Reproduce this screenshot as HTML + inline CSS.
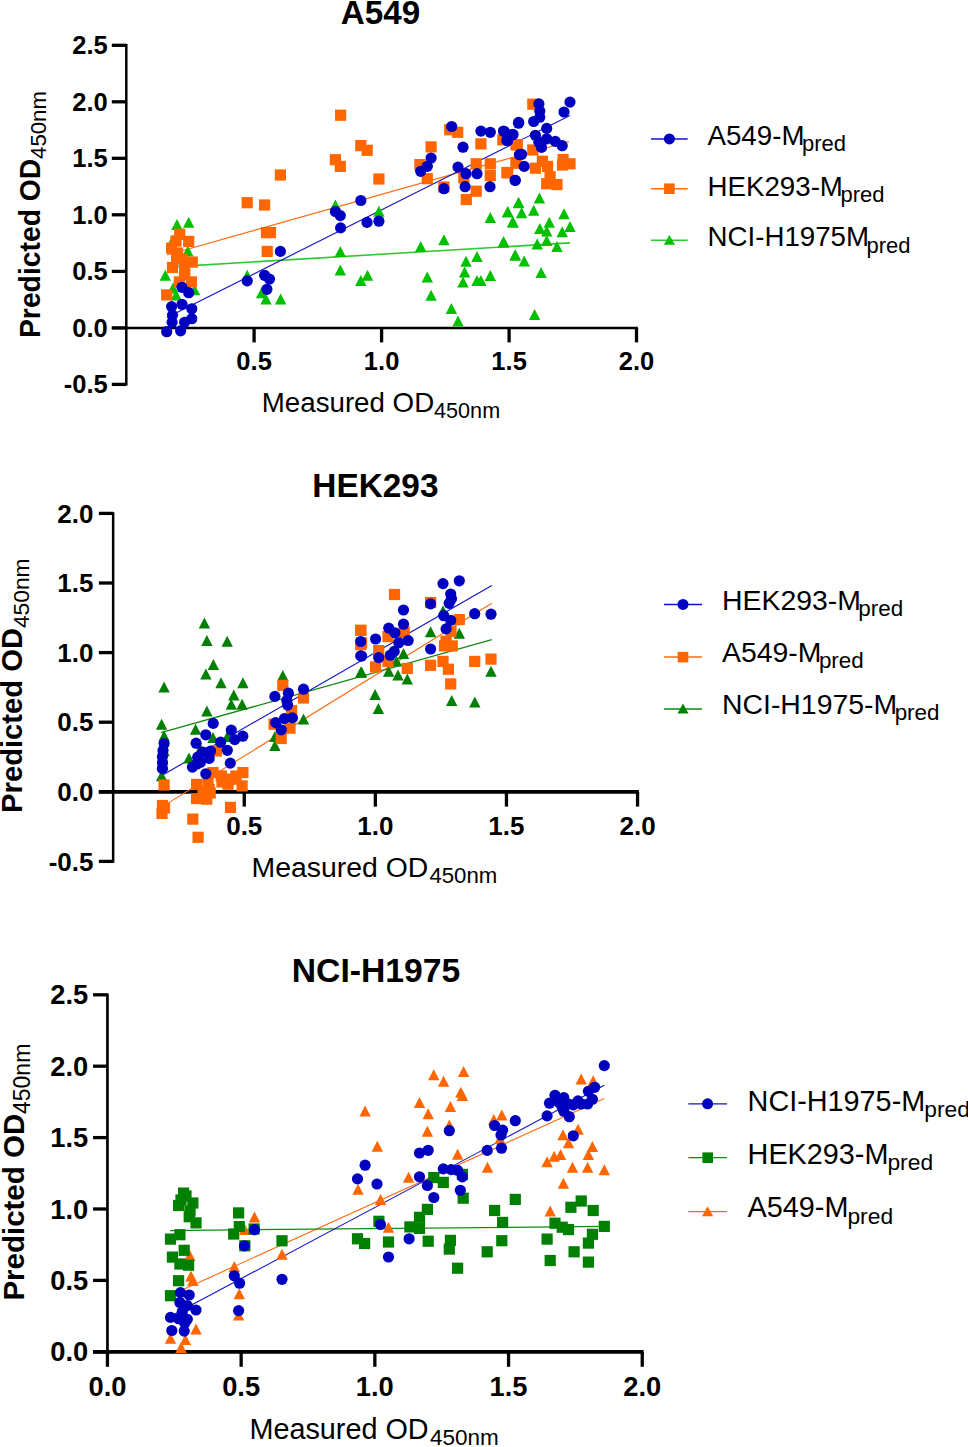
<!DOCTYPE html><html><head><meta charset="utf-8"><style>
html,body{margin:0;padding:0;background:#fff;overflow:hidden;width:968px;height:1447px;}
svg{display:block;}
text{font-family:"Liberation Sans",sans-serif;fill:#000;}
</style></head><body>
<svg width="968" height="1447" viewBox="0 0 968 1447">
<rect width="968" height="1447" fill="#fff"/>
<line x1="126.3" y1="44.05" x2="126.3" y2="385.6" stroke="#000" stroke-width="2.5"/>
<line x1="111.8" y1="327.9" x2="637.8" y2="327.9" stroke="#000" stroke-width="2.5"/>
<line x1="111.8" y1="45.3" x2="126.3" y2="45.3" stroke="#000" stroke-width="3.3"/>
<line x1="111.8" y1="101.8" x2="126.3" y2="101.8" stroke="#000" stroke-width="3.3"/>
<line x1="111.8" y1="158.3" x2="126.3" y2="158.3" stroke="#000" stroke-width="3.3"/>
<line x1="111.8" y1="214.8" x2="126.3" y2="214.8" stroke="#000" stroke-width="3.3"/>
<line x1="111.8" y1="271.4" x2="126.3" y2="271.4" stroke="#000" stroke-width="3.3"/>
<line x1="111.8" y1="327.9" x2="126.3" y2="327.9" stroke="#000" stroke-width="3.3"/>
<line x1="111.8" y1="384.4" x2="126.3" y2="384.4" stroke="#000" stroke-width="3.3"/>
<line x1="254.1" y1="327.9" x2="254.1" y2="342.4" stroke="#000" stroke-width="3.3"/>
<line x1="381.6" y1="327.9" x2="381.6" y2="342.4" stroke="#000" stroke-width="3.3"/>
<line x1="509.1" y1="327.9" x2="509.1" y2="342.4" stroke="#000" stroke-width="3.3"/>
<line x1="636.5" y1="327.9" x2="636.5" y2="342.4" stroke="#000" stroke-width="3.3"/>
<text x="107.8" y="54.22" style="font-size:25.5px;font-weight:bold" text-anchor="end">2.5</text>
<text x="107.8" y="110.72" style="font-size:25.5px;font-weight:bold" text-anchor="end">2.0</text>
<text x="107.8" y="167.23" style="font-size:25.5px;font-weight:bold" text-anchor="end">1.5</text>
<text x="107.8" y="223.73" style="font-size:25.5px;font-weight:bold" text-anchor="end">1.0</text>
<text x="107.8" y="280.32" style="font-size:25.5px;font-weight:bold" text-anchor="end">0.5</text>
<text x="107.8" y="336.82" style="font-size:25.5px;font-weight:bold" text-anchor="end">0.0</text>
<text x="107.8" y="393.32" style="font-size:25.5px;font-weight:bold" text-anchor="end">-0.5</text>
<text x="254.1" y="369.9" style="font-size:25.5px;font-weight:bold" text-anchor="middle">0.5</text>
<text x="381.6" y="369.9" style="font-size:25.5px;font-weight:bold" text-anchor="middle">1.0</text>
<text x="509.1" y="369.9" style="font-size:25.5px;font-weight:bold" text-anchor="middle">1.5</text>
<text x="636.5" y="369.9" style="font-size:25.5px;font-weight:bold" text-anchor="middle">2.0</text>
<text x="380.5" y="23.8" style="font-size:33.2px;font-weight:bold" text-anchor="middle">A549</text>
<text x="261.8" y="411.5" style="font-size:27.7px">Measured OD</text>
<text x="434.1" y="418.2" style="font-size:21.6px">450nm</text>
<text transform="translate(40.0,338) rotate(-90) scale(1,1.03)" style="font-size:28.3px;font-weight:bold">Predicted OD</text>
<text transform="translate(45.9,158.9) rotate(-90)" style="font-size:22.2px">450nm</text>
<line x1="167" y1="255.0" x2="569" y2="141.5" stroke="#ff6a10" stroke-width="1.1"/>
<line x1="167" y1="267.1" x2="570" y2="242.9" stroke="#30c830" stroke-width="1.6"/>
<line x1="167" y1="317.5" x2="570" y2="115.4" stroke="#1010c8" stroke-width="1.1"/>
<path d="M177.0 219.0L182.7 230.0L171.3 230.0Z" fill="#00c000"/>
<path d="M188.7 216.8L194.4 227.8L183.0 227.8Z" fill="#00c000"/>
<path d="M172.5 235.2L178.2 246.2L166.8 246.2Z" fill="#00c000"/>
<path d="M187.8 245.5L193.5 256.5L182.1 256.5Z" fill="#00c000"/>
<path d="M165.3 269.8L171.0 280.8L159.6 280.8Z" fill="#00c000"/>
<path d="M173.0 282.4L178.7 293.4L167.3 293.4Z" fill="#00c000"/>
<path d="M194.5 284.2L200.2 295.2L188.8 295.2Z" fill="#00c000"/>
<path d="M176.1 289.6L181.8 300.6L170.4 300.6Z" fill="#00c000"/>
<path d="M247.2 269.8L252.9 280.8L241.5 280.8Z" fill="#00c000"/>
<path d="M261.6 287.2L267.3 298.2L255.9 298.2Z" fill="#00c000"/>
<path d="M266.0 293.5L271.7 304.5L260.3 304.5Z" fill="#00c000"/>
<path d="M280.6 293.5L286.3 304.5L274.9 304.5Z" fill="#00c000"/>
<path d="M335.4 199.6L341.1 210.6L329.7 210.6Z" fill="#00c000"/>
<path d="M378.9 205.7L384.6 216.7L373.2 216.7Z" fill="#00c000"/>
<path d="M340.3 246.1L346.0 257.1L334.6 257.1Z" fill="#00c000"/>
<path d="M340.3 264.6L346.0 275.6L334.6 275.6Z" fill="#00c000"/>
<path d="M360.8 275.1L366.5 286.1L355.1 286.1Z" fill="#00c000"/>
<path d="M367.5 269.8L373.2 280.8L361.8 280.8Z" fill="#00c000"/>
<path d="M490.3 211.9L496.0 222.9L484.6 222.9Z" fill="#00c000"/>
<path d="M507.7 206.1L513.4 217.1L502.0 217.1Z" fill="#00c000"/>
<path d="M512.7 216.0L518.4 227.0L507.0 227.0Z" fill="#00c000"/>
<path d="M518.5 197.0L524.2 208.0L512.8 208.0Z" fill="#00c000"/>
<path d="M443.9 234.3L449.6 245.3L438.2 245.3Z" fill="#00c000"/>
<path d="M420.7 240.9L426.4 251.9L415.0 251.9Z" fill="#00c000"/>
<path d="M503.6 235.9L509.3 246.9L497.9 246.9Z" fill="#00c000"/>
<path d="M515.2 249.2L520.9 260.2L509.5 260.2Z" fill="#00c000"/>
<path d="M477.0 250.9L482.7 261.9L471.3 261.9Z" fill="#00c000"/>
<path d="M466.0 255.8L471.7 266.8L460.3 266.8Z" fill="#00c000"/>
<path d="M427.3 271.6L433.0 282.6L421.6 282.6Z" fill="#00c000"/>
<path d="M464.6 266.6L470.3 277.6L458.9 277.6Z" fill="#00c000"/>
<path d="M463.0 276.6L468.7 287.6L457.3 287.6Z" fill="#00c000"/>
<path d="M477.0 274.9L482.7 285.9L471.3 285.9Z" fill="#00c000"/>
<path d="M480.9 274.9L486.6 285.9L475.2 285.9Z" fill="#00c000"/>
<path d="M490.3 269.9L496.0 280.9L484.6 280.9Z" fill="#00c000"/>
<path d="M431.1 289.8L436.8 300.8L425.4 300.8Z" fill="#00c000"/>
<path d="M451.4 303.1L457.1 314.1L445.7 314.1Z" fill="#00c000"/>
<path d="M458.0 315.5L463.7 326.5L452.3 326.5Z" fill="#00c000"/>
<path d="M539.4 192.6L545.1 203.6L533.7 203.6Z" fill="#00c000"/>
<path d="M518.7 197.3L524.4 208.3L513.0 208.3Z" fill="#00c000"/>
<path d="M533.7 204.7L539.4 215.7L528.0 215.7Z" fill="#00c000"/>
<path d="M507.8 206.4L513.5 217.4L502.1 217.4Z" fill="#00c000"/>
<path d="M521.6 207.3L527.3 218.3L515.9 218.3Z" fill="#00c000"/>
<path d="M513.0 216.8L518.7 227.8L507.3 227.8Z" fill="#00c000"/>
<path d="M564.0 208.2L569.7 219.2L558.3 219.2Z" fill="#00c000"/>
<path d="M549.3 216.8L555.0 227.8L543.6 227.8Z" fill="#00c000"/>
<path d="M539.8 222.9L545.5 233.9L534.1 233.9Z" fill="#00c000"/>
<path d="M546.7 225.5L552.4 236.5L541.0 236.5Z" fill="#00c000"/>
<path d="M570.0 221.1L575.7 232.1L564.3 232.1Z" fill="#00c000"/>
<path d="M562.2 226.3L567.9 237.3L556.5 237.3Z" fill="#00c000"/>
<path d="M503.5 236.7L509.2 247.7L497.8 247.7Z" fill="#00c000"/>
<path d="M537.2 238.4L542.9 249.4L531.5 249.4Z" fill="#00c000"/>
<path d="M546.7 235.0L552.4 246.0L541.0 246.0Z" fill="#00c000"/>
<path d="M557.0 241.0L562.7 252.0L551.3 252.0Z" fill="#00c000"/>
<path d="M515.2 249.7L520.9 260.7L509.5 260.7Z" fill="#00c000"/>
<path d="M524.2 255.4L529.9 266.4L518.5 266.4Z" fill="#00c000"/>
<path d="M541.1 266.9L546.8 277.9L535.4 277.9Z" fill="#00c000"/>
<path d="M534.6 308.9L540.3 319.9L528.9 319.9Z" fill="#00c000"/>
<rect x="174.1" y="228.7" width="11.2" height="11.2" fill="#ff6600"/>
<rect x="183.1" y="235.8" width="11.2" height="11.2" fill="#ff6600"/>
<rect x="166.0" y="242.6" width="11.2" height="11.2" fill="#ff6600"/>
<rect x="170.4" y="235.4" width="11.2" height="11.2" fill="#ff6600"/>
<rect x="176.4" y="253.4" width="11.2" height="11.2" fill="#ff6600"/>
<rect x="171.9" y="247.4" width="11.2" height="11.2" fill="#ff6600"/>
<rect x="186.7" y="256.5" width="11.2" height="11.2" fill="#ff6600"/>
<rect x="171.0" y="252.9" width="11.2" height="11.2" fill="#ff6600"/>
<rect x="166.9" y="261.9" width="11.2" height="11.2" fill="#ff6600"/>
<rect x="179.0" y="263.7" width="11.2" height="11.2" fill="#ff6600"/>
<rect x="179.0" y="269.1" width="11.2" height="11.2" fill="#ff6600"/>
<rect x="185.8" y="276.3" width="11.2" height="11.2" fill="#ff6600"/>
<rect x="173.7" y="276.3" width="11.2" height="11.2" fill="#ff6600"/>
<rect x="161.1" y="289.3" width="11.2" height="11.2" fill="#ff6600"/>
<rect x="335.0" y="109.6" width="11.2" height="11.2" fill="#ff6600"/>
<rect x="355.2" y="140.0" width="11.2" height="11.2" fill="#ff6600"/>
<rect x="361.6" y="144.7" width="11.2" height="11.2" fill="#ff6600"/>
<rect x="329.8" y="154.1" width="11.2" height="11.2" fill="#ff6600"/>
<rect x="334.7" y="160.8" width="11.2" height="11.2" fill="#ff6600"/>
<rect x="274.8" y="169.4" width="11.2" height="11.2" fill="#ff6600"/>
<rect x="373.3" y="173.4" width="11.2" height="11.2" fill="#ff6600"/>
<rect x="241.6" y="197.1" width="11.2" height="11.2" fill="#ff6600"/>
<rect x="259.0" y="199.4" width="11.2" height="11.2" fill="#ff6600"/>
<rect x="260.9" y="227.0" width="11.2" height="11.2" fill="#ff6600"/>
<rect x="264.9" y="227.0" width="11.2" height="11.2" fill="#ff6600"/>
<rect x="261.6" y="245.8" width="11.2" height="11.2" fill="#ff6600"/>
<rect x="452.1" y="126.7" width="11.2" height="11.2" fill="#ff6600"/>
<rect x="444.1" y="124.2" width="11.2" height="11.2" fill="#ff6600"/>
<rect x="425.5" y="141.3" width="11.2" height="11.2" fill="#ff6600"/>
<rect x="475.3" y="138.3" width="11.2" height="11.2" fill="#ff6600"/>
<rect x="497.2" y="134.2" width="11.2" height="11.2" fill="#ff6600"/>
<rect x="510.4" y="139.1" width="11.2" height="11.2" fill="#ff6600"/>
<rect x="414.3" y="159.0" width="11.2" height="11.2" fill="#ff6600"/>
<rect x="421.7" y="173.1" width="11.2" height="11.2" fill="#ff6600"/>
<rect x="470.6" y="158.2" width="11.2" height="11.2" fill="#ff6600"/>
<rect x="484.7" y="158.2" width="11.2" height="11.2" fill="#ff6600"/>
<rect x="484.7" y="169.8" width="11.2" height="11.2" fill="#ff6600"/>
<rect x="502.1" y="167.3" width="11.2" height="11.2" fill="#ff6600"/>
<rect x="510.4" y="157.4" width="11.2" height="11.2" fill="#ff6600"/>
<rect x="458.2" y="172.3" width="11.2" height="11.2" fill="#ff6600"/>
<rect x="438.3" y="181.4" width="11.2" height="11.2" fill="#ff6600"/>
<rect x="470.6" y="185.6" width="11.2" height="11.2" fill="#ff6600"/>
<rect x="460.7" y="193.9" width="11.2" height="11.2" fill="#ff6600"/>
<rect x="527.2" y="98.6" width="11.2" height="11.2" fill="#ff6600"/>
<rect x="511.7" y="139.2" width="11.2" height="11.2" fill="#ff6600"/>
<rect x="527.2" y="144.4" width="11.2" height="11.2" fill="#ff6600"/>
<rect x="536.8" y="155.6" width="11.2" height="11.2" fill="#ff6600"/>
<rect x="529.8" y="162.6" width="11.2" height="11.2" fill="#ff6600"/>
<rect x="541.9" y="160.8" width="11.2" height="11.2" fill="#ff6600"/>
<rect x="557.5" y="153.9" width="11.2" height="11.2" fill="#ff6600"/>
<rect x="564.4" y="158.2" width="11.2" height="11.2" fill="#ff6600"/>
<rect x="544.5" y="171.2" width="11.2" height="11.2" fill="#ff6600"/>
<rect x="541.1" y="178.1" width="11.2" height="11.2" fill="#ff6600"/>
<rect x="551.4" y="179.0" width="11.2" height="11.2" fill="#ff6600"/>
<rect x="501.3" y="166.9" width="11.2" height="11.2" fill="#ff6600"/>
<rect x="510.8" y="157.4" width="11.2" height="11.2" fill="#ff6600"/>
<rect x="556.9" y="159.4" width="11.2" height="11.2" fill="#ff6600"/>
<circle cx="182.0" cy="287.3" r="5.6" fill="#0000c0"/>
<circle cx="188.7" cy="292.7" r="5.6" fill="#0000c0"/>
<circle cx="171.6" cy="306.6" r="5.6" fill="#0000c0"/>
<circle cx="191.8" cy="308.8" r="5.6" fill="#0000c0"/>
<circle cx="182.0" cy="304.3" r="5.6" fill="#0000c0"/>
<circle cx="172.5" cy="315.1" r="5.6" fill="#0000c0"/>
<circle cx="191.8" cy="318.7" r="5.6" fill="#0000c0"/>
<circle cx="172.1" cy="322.3" r="5.6" fill="#0000c0"/>
<circle cx="184.6" cy="322.3" r="5.6" fill="#0000c0"/>
<circle cx="166.7" cy="331.7" r="5.6" fill="#0000c0"/>
<circle cx="180.6" cy="330.8" r="5.6" fill="#0000c0"/>
<circle cx="247.2" cy="280.9" r="5.6" fill="#0000c0"/>
<circle cx="264.6" cy="275.3" r="5.6" fill="#0000c0"/>
<circle cx="269.5" cy="279.1" r="5.6" fill="#0000c0"/>
<circle cx="266.9" cy="289.3" r="5.6" fill="#0000c0"/>
<circle cx="280.4" cy="251.4" r="5.6" fill="#0000c0"/>
<circle cx="335.4" cy="211.5" r="5.6" fill="#0000c0"/>
<circle cx="340.3" cy="215.6" r="5.6" fill="#0000c0"/>
<circle cx="340.6" cy="227.9" r="5.6" fill="#0000c0"/>
<circle cx="360.8" cy="200.5" r="5.6" fill="#0000c0"/>
<circle cx="367.0" cy="222.4" r="5.6" fill="#0000c0"/>
<circle cx="378.9" cy="221.2" r="5.6" fill="#0000c0"/>
<circle cx="451.7" cy="126.5" r="5.6" fill="#0000c0"/>
<circle cx="480.9" cy="131.1" r="5.6" fill="#0000c0"/>
<circle cx="490.3" cy="132.3" r="5.6" fill="#0000c0"/>
<circle cx="504.4" cy="131.5" r="5.6" fill="#0000c0"/>
<circle cx="512.7" cy="134.4" r="5.6" fill="#0000c0"/>
<circle cx="507.7" cy="140.6" r="5.6" fill="#0000c0"/>
<circle cx="518.5" cy="123.2" r="5.6" fill="#0000c0"/>
<circle cx="463.0" cy="147.2" r="5.6" fill="#0000c0"/>
<circle cx="431.1" cy="158.0" r="5.6" fill="#0000c0"/>
<circle cx="427.3" cy="166.3" r="5.6" fill="#0000c0"/>
<circle cx="420.7" cy="171.3" r="5.6" fill="#0000c0"/>
<circle cx="458.0" cy="167.1" r="5.6" fill="#0000c0"/>
<circle cx="466.0" cy="173.7" r="5.6" fill="#0000c0"/>
<circle cx="477.0" cy="173.7" r="5.6" fill="#0000c0"/>
<circle cx="443.9" cy="188.7" r="5.6" fill="#0000c0"/>
<circle cx="465.1" cy="186.7" r="5.6" fill="#0000c0"/>
<circle cx="490.0" cy="186.7" r="5.6" fill="#0000c0"/>
<circle cx="515.2" cy="180.4" r="5.6" fill="#0000c0"/>
<circle cx="519.4" cy="154.7" r="5.6" fill="#0000c0"/>
<circle cx="570.0" cy="102.1" r="5.6" fill="#0000c0"/>
<circle cx="564.0" cy="112.0" r="5.6" fill="#0000c0"/>
<circle cx="538.9" cy="103.9" r="5.6" fill="#0000c0"/>
<circle cx="539.8" cy="111.1" r="5.6" fill="#0000c0"/>
<circle cx="539.8" cy="117.2" r="5.6" fill="#0000c0"/>
<circle cx="533.7" cy="121.5" r="5.6" fill="#0000c0"/>
<circle cx="518.7" cy="122.4" r="5.6" fill="#0000c0"/>
<circle cx="503.5" cy="131.0" r="5.6" fill="#0000c0"/>
<circle cx="513.0" cy="134.5" r="5.6" fill="#0000c0"/>
<circle cx="506.9" cy="140.5" r="5.6" fill="#0000c0"/>
<circle cx="546.7" cy="128.4" r="5.6" fill="#0000c0"/>
<circle cx="535.4" cy="135.3" r="5.6" fill="#0000c0"/>
<circle cx="541.5" cy="147.4" r="5.6" fill="#0000c0"/>
<circle cx="546.7" cy="138.8" r="5.6" fill="#0000c0"/>
<circle cx="555.3" cy="141.4" r="5.6" fill="#0000c0"/>
<circle cx="562.2" cy="145.7" r="5.6" fill="#0000c0"/>
<circle cx="538.9" cy="142.2" r="5.6" fill="#0000c0"/>
<circle cx="521.6" cy="154.3" r="5.6" fill="#0000c0"/>
<circle cx="524.2" cy="166.4" r="5.6" fill="#0000c0"/>
<circle cx="515.2" cy="180.3" r="5.6" fill="#0000c0"/>
<line x1="651" y1="138.9" x2="687.7" y2="138.9" stroke="#1010c8" stroke-width="1.5"/>
<circle cx="669.4" cy="138.9" r="5.5" fill="#0000c0"/>
<text x="707.5" y="144.8" style="font-size:27.7px">A549-M<tspan dx="-2.5" dy="6.5" style="font-size:22px">pred</tspan></text>
<line x1="651" y1="188.7" x2="687.7" y2="188.7" stroke="#ff6a10" stroke-width="1.5"/>
<rect x="664.1" y="183.4" width="10.6" height="10.6" fill="#ff6600"/>
<text x="707.5" y="195.6" style="font-size:27.7px">HEK293-M<tspan dx="-2.5" dy="6.5" style="font-size:22px">pred</tspan></text>
<line x1="651" y1="240.2" x2="687.7" y2="240.2" stroke="#30c830" stroke-width="1.5"/>
<path d="M669.4 234.9L674.9 244.8L663.9 244.8Z" fill="#00c000"/>
<text x="707.5" y="246.0" style="font-size:27.7px">NCI-H1975M<tspan dx="-2.5" dy="6.5" style="font-size:22px">pred</tspan></text>
<line x1="113.15" y1="512.15" x2="113.15" y2="862.7" stroke="#000" stroke-width="2.5"/>
<line x1="98.85000000000001" y1="791.8" x2="638.8499999999999" y2="791.8" stroke="#000" stroke-width="3.8"/>
<line x1="98.85000000000001" y1="513.4" x2="113.15" y2="513.4" stroke="#000" stroke-width="3.3"/>
<line x1="98.85000000000001" y1="583" x2="113.15" y2="583" stroke="#000" stroke-width="3.3"/>
<line x1="98.85000000000001" y1="652.6" x2="113.15" y2="652.6" stroke="#000" stroke-width="3.3"/>
<line x1="98.85000000000001" y1="722.2" x2="113.15" y2="722.2" stroke="#000" stroke-width="3.3"/>
<line x1="98.85000000000001" y1="791.8" x2="113.15" y2="791.8" stroke="#000" stroke-width="3.3"/>
<line x1="98.85000000000001" y1="861.4" x2="113.15" y2="861.4" stroke="#000" stroke-width="3.3"/>
<line x1="244.25" y1="791.8" x2="244.25" y2="806.6" stroke="#000" stroke-width="3.3"/>
<line x1="375.35" y1="791.8" x2="375.35" y2="806.6" stroke="#000" stroke-width="3.3"/>
<line x1="506.45" y1="791.8" x2="506.45" y2="806.6" stroke="#000" stroke-width="3.3"/>
<line x1="637.55" y1="791.8" x2="637.55" y2="806.6" stroke="#000" stroke-width="3.3"/>
<text x="93.5" y="522.5" style="font-size:26px;font-weight:bold" text-anchor="end">2.0</text>
<text x="93.5" y="592.1" style="font-size:26px;font-weight:bold" text-anchor="end">1.5</text>
<text x="93.5" y="661.7" style="font-size:26px;font-weight:bold" text-anchor="end">1.0</text>
<text x="93.5" y="731.3" style="font-size:26px;font-weight:bold" text-anchor="end">0.5</text>
<text x="93.5" y="800.9" style="font-size:26px;font-weight:bold" text-anchor="end">0.0</text>
<text x="93.5" y="870.5" style="font-size:26px;font-weight:bold" text-anchor="end">-0.5</text>
<text x="244.25" y="835.3" style="font-size:26px;font-weight:bold" text-anchor="middle">0.5</text>
<text x="375.35" y="835.3" style="font-size:26px;font-weight:bold" text-anchor="middle">1.0</text>
<text x="506.45" y="835.3" style="font-size:26px;font-weight:bold" text-anchor="middle">1.5</text>
<text x="637.55" y="835.3" style="font-size:26px;font-weight:bold" text-anchor="middle">2.0</text>
<text x="375.4" y="497.2" style="font-size:33.4px;font-weight:bold" text-anchor="middle">HEK293</text>
<text x="251.6" y="876.7" style="font-size:28.4px">Measured OD</text>
<text x="429.4" y="883.1" style="font-size:22.2px">450nm</text>
<text transform="translate(22.4,812.9) rotate(-90) scale(1,1.015)" style="font-size:29.2px;font-weight:bold">Predicted OD</text>
<text transform="translate(28.5,628.1) rotate(-90)" style="font-size:22.8px">450nm</text>
<line x1="161" y1="807.4" x2="491.8" y2="603.3" stroke="#ff6a10" stroke-width="1.1"/>
<line x1="161" y1="732.7" x2="491.8" y2="639.7" stroke="#108a10" stroke-width="1.25"/>
<line x1="161" y1="775.9" x2="491.8" y2="585.5" stroke="#1010c8" stroke-width="1.1"/>
<path d="M204.4 617.5L210.1 628.5L198.7 628.5Z" fill="#008000"/>
<path d="M206.9 634.9L212.6 645.9L201.2 645.9Z" fill="#008000"/>
<path d="M227.2 635.7L232.9 646.7L221.5 646.7Z" fill="#008000"/>
<path d="M213.4 659.0L219.1 670.0L207.7 670.0Z" fill="#008000"/>
<path d="M205.9 668.6L211.6 679.6L200.2 679.6Z" fill="#008000"/>
<path d="M221.0 677.2L226.7 688.2L215.3 688.2Z" fill="#008000"/>
<path d="M242.9 677.2L248.6 688.2L237.2 688.2Z" fill="#008000"/>
<path d="M164.1 681.4L169.8 692.4L158.4 692.4Z" fill="#008000"/>
<path d="M233.8 689.6L239.5 700.6L228.1 700.6Z" fill="#008000"/>
<path d="M231.3 698.8L237.0 709.8L225.6 709.8Z" fill="#008000"/>
<path d="M242.1 698.8L247.8 709.8L236.4 709.8Z" fill="#008000"/>
<path d="M206.9 705.4L212.6 716.4L201.2 716.4Z" fill="#008000"/>
<path d="M161.6 718.7L167.3 729.7L155.9 729.7Z" fill="#008000"/>
<path d="M195.6 723.7L201.3 734.7L189.9 734.7Z" fill="#008000"/>
<path d="M164.1 730.3L169.8 741.3L158.4 741.3Z" fill="#008000"/>
<path d="M213.0 732.0L218.7 743.0L207.3 743.0Z" fill="#008000"/>
<path d="M164.1 745.2L169.8 756.2L158.4 756.2Z" fill="#008000"/>
<path d="M161.6 770.2L167.3 781.2L155.9 781.2Z" fill="#008000"/>
<path d="M200.4 743.2L206.1 754.2L194.7 754.2Z" fill="#008000"/>
<path d="M163.0 759.2L168.7 770.2L157.3 770.2Z" fill="#008000"/>
<path d="M227.3 731.1L233.0 742.1L221.6 742.1Z" fill="#008000"/>
<path d="M189.0 752.6L194.7 763.6L183.3 763.6Z" fill="#008000"/>
<path d="M282.8 669.9L288.5 680.9L277.1 680.9Z" fill="#008000"/>
<path d="M303.5 713.6L309.2 724.6L297.8 724.6Z" fill="#008000"/>
<path d="M274.9 731.1L280.6 742.1L269.2 742.1Z" fill="#008000"/>
<path d="M274.9 739.9L280.6 750.9L269.2 750.9Z" fill="#008000"/>
<path d="M360.7 666.7L366.4 677.7L355.0 677.7Z" fill="#008000"/>
<path d="M430.6 626.2L436.3 637.2L424.9 637.2Z" fill="#008000"/>
<path d="M459.3 627.7L465.0 638.7L453.6 638.7Z" fill="#008000"/>
<path d="M403.5 647.9L409.2 658.9L397.8 658.9Z" fill="#008000"/>
<path d="M396.5 655.6L402.2 666.6L390.8 666.6Z" fill="#008000"/>
<path d="M361.6 666.5L367.3 677.5L355.9 677.5Z" fill="#008000"/>
<path d="M388.7 665.7L394.4 676.7L383.0 676.7Z" fill="#008000"/>
<path d="M398.0 669.6L403.7 680.6L392.3 680.6Z" fill="#008000"/>
<path d="M407.3 673.5L413.0 684.5L401.6 684.5Z" fill="#008000"/>
<path d="M491.0 665.7L496.7 676.7L485.3 676.7Z" fill="#008000"/>
<path d="M375.1 689.1L380.8 700.1L369.4 700.1Z" fill="#008000"/>
<path d="M378.4 703.1L384.1 714.1L372.7 714.1Z" fill="#008000"/>
<path d="M451.7 694.9L457.4 705.9L446.0 705.9Z" fill="#008000"/>
<path d="M474.8 696.5L480.5 707.5L469.1 707.5Z" fill="#008000"/>
<path d="M443.0 605.2L448.7 616.2L437.3 616.2Z" fill="#008000"/>
<rect x="158.5" y="779.4" width="11.2" height="11.2" fill="#ff6600"/>
<rect x="191.0" y="778.8" width="11.2" height="11.2" fill="#ff6600"/>
<rect x="203.5" y="783.9" width="11.2" height="11.2" fill="#ff6600"/>
<rect x="191.0" y="793.0" width="11.2" height="11.2" fill="#ff6600"/>
<rect x="201.2" y="793.6" width="11.2" height="11.2" fill="#ff6600"/>
<rect x="204.6" y="787.4" width="11.2" height="11.2" fill="#ff6600"/>
<rect x="197.4" y="785.4" width="11.2" height="11.2" fill="#ff6600"/>
<rect x="207.4" y="767.0" width="11.2" height="11.2" fill="#ff6600"/>
<rect x="210.8" y="745.4" width="11.2" height="11.2" fill="#ff6600"/>
<rect x="215.7" y="770.4" width="11.2" height="11.2" fill="#ff6600"/>
<rect x="222.4" y="778.6" width="11.2" height="11.2" fill="#ff6600"/>
<rect x="237.3" y="767.0" width="11.2" height="11.2" fill="#ff6600"/>
<rect x="236.5" y="780.3" width="11.2" height="11.2" fill="#ff6600"/>
<rect x="225.7" y="773.6" width="11.2" height="11.2" fill="#ff6600"/>
<rect x="230.4" y="770.4" width="11.2" height="11.2" fill="#ff6600"/>
<rect x="216.4" y="776.4" width="11.2" height="11.2" fill="#ff6600"/>
<rect x="202.4" y="774.4" width="11.2" height="11.2" fill="#ff6600"/>
<rect x="156.9" y="799.9" width="11.2" height="11.2" fill="#ff6600"/>
<rect x="156.4" y="807.8" width="11.2" height="11.2" fill="#ff6600"/>
<rect x="158.9" y="802.4" width="11.2" height="11.2" fill="#ff6600"/>
<rect x="224.9" y="801.8" width="11.2" height="11.2" fill="#ff6600"/>
<rect x="187.2" y="813.5" width="11.2" height="11.2" fill="#ff6600"/>
<rect x="192.5" y="831.7" width="11.2" height="11.2" fill="#ff6600"/>
<rect x="277.2" y="679.7" width="11.2" height="11.2" fill="#ff6600"/>
<rect x="297.9" y="692.4" width="11.2" height="11.2" fill="#ff6600"/>
<rect x="286.0" y="705.1" width="11.2" height="11.2" fill="#ff6600"/>
<rect x="268.5" y="718.6" width="11.2" height="11.2" fill="#ff6600"/>
<rect x="284.4" y="722.6" width="11.2" height="11.2" fill="#ff6600"/>
<rect x="275.6" y="732.9" width="11.2" height="11.2" fill="#ff6600"/>
<rect x="355.1" y="624.8" width="11.2" height="11.2" fill="#ff6600"/>
<rect x="355.1" y="639.1" width="11.2" height="11.2" fill="#ff6600"/>
<rect x="388.9" y="588.9" width="11.2" height="11.2" fill="#ff6600"/>
<rect x="425.0" y="596.9" width="11.2" height="11.2" fill="#ff6600"/>
<rect x="355.2" y="624.8" width="11.2" height="11.2" fill="#ff6600"/>
<rect x="453.7" y="614.0" width="11.2" height="11.2" fill="#ff6600"/>
<rect x="398.6" y="626.4" width="11.2" height="11.2" fill="#ff6600"/>
<rect x="382.4" y="631.0" width="11.2" height="11.2" fill="#ff6600"/>
<rect x="356.0" y="637.2" width="11.2" height="11.2" fill="#ff6600"/>
<rect x="373.1" y="645.0" width="11.2" height="11.2" fill="#ff6600"/>
<rect x="445.4" y="625.9" width="11.2" height="11.2" fill="#ff6600"/>
<rect x="440.5" y="635.7" width="11.2" height="11.2" fill="#ff6600"/>
<rect x="446.7" y="640.3" width="11.2" height="11.2" fill="#ff6600"/>
<rect x="438.9" y="640.3" width="11.2" height="11.2" fill="#ff6600"/>
<rect x="370.0" y="661.3" width="11.2" height="11.2" fill="#ff6600"/>
<rect x="382.4" y="655.8" width="11.2" height="11.2" fill="#ff6600"/>
<rect x="401.7" y="662.8" width="11.2" height="11.2" fill="#ff6600"/>
<rect x="425.0" y="659.7" width="11.2" height="11.2" fill="#ff6600"/>
<rect x="437.4" y="655.8" width="11.2" height="11.2" fill="#ff6600"/>
<rect x="442.8" y="663.6" width="11.2" height="11.2" fill="#ff6600"/>
<rect x="445.1" y="678.3" width="11.2" height="11.2" fill="#ff6600"/>
<rect x="469.1" y="655.8" width="11.2" height="11.2" fill="#ff6600"/>
<rect x="485.4" y="653.5" width="11.2" height="11.2" fill="#ff6600"/>
<circle cx="213.2" cy="723.4" r="5.6" fill="#0000c0"/>
<circle cx="205.8" cy="734.8" r="5.6" fill="#0000c0"/>
<circle cx="196.1" cy="743.2" r="5.6" fill="#0000c0"/>
<circle cx="231.3" cy="730.1" r="5.6" fill="#0000c0"/>
<circle cx="242.8" cy="736.2" r="5.6" fill="#0000c0"/>
<circle cx="234.7" cy="739.6" r="5.6" fill="#0000c0"/>
<circle cx="220.6" cy="742.2" r="5.6" fill="#0000c0"/>
<circle cx="227.3" cy="750.3" r="5.6" fill="#0000c0"/>
<circle cx="210.5" cy="751.0" r="5.6" fill="#0000c0"/>
<circle cx="197.8" cy="757.0" r="5.6" fill="#0000c0"/>
<circle cx="209.2" cy="758.4" r="5.6" fill="#0000c0"/>
<circle cx="192.4" cy="767.1" r="5.6" fill="#0000c0"/>
<circle cx="230.3" cy="763.1" r="5.6" fill="#0000c0"/>
<circle cx="205.8" cy="773.8" r="5.6" fill="#0000c0"/>
<circle cx="200.4" cy="762.4" r="5.6" fill="#0000c0"/>
<circle cx="203.0" cy="752.0" r="5.6" fill="#0000c0"/>
<circle cx="197.0" cy="764.0" r="5.6" fill="#0000c0"/>
<circle cx="164.1" cy="743.6" r="5.6" fill="#0000c0"/>
<circle cx="162.4" cy="756.8" r="5.6" fill="#0000c0"/>
<circle cx="162.4" cy="768.5" r="5.6" fill="#0000c0"/>
<circle cx="163.0" cy="750.5" r="5.6" fill="#0000c0"/>
<circle cx="162.5" cy="762.8" r="5.6" fill="#0000c0"/>
<circle cx="274.9" cy="696.4" r="5.6" fill="#0000c0"/>
<circle cx="288.4" cy="693.2" r="5.6" fill="#0000c0"/>
<circle cx="286.8" cy="700.4" r="5.6" fill="#0000c0"/>
<circle cx="287.6" cy="705.1" r="5.6" fill="#0000c0"/>
<circle cx="303.5" cy="689.2" r="5.6" fill="#0000c0"/>
<circle cx="275.7" cy="722.6" r="5.6" fill="#0000c0"/>
<circle cx="284.4" cy="718.6" r="5.6" fill="#0000c0"/>
<circle cx="292.4" cy="717.9" r="5.6" fill="#0000c0"/>
<circle cx="281.2" cy="729.8" r="5.6" fill="#0000c0"/>
<circle cx="360.7" cy="641.5" r="5.6" fill="#0000c0"/>
<circle cx="360.7" cy="655.9" r="5.6" fill="#0000c0"/>
<circle cx="443.0" cy="583.6" r="5.6" fill="#0000c0"/>
<circle cx="459.3" cy="580.8" r="5.6" fill="#0000c0"/>
<circle cx="450.7" cy="594.0" r="5.6" fill="#0000c0"/>
<circle cx="451.5" cy="598.7" r="5.6" fill="#0000c0"/>
<circle cx="449.2" cy="603.3" r="5.6" fill="#0000c0"/>
<circle cx="430.6" cy="603.8" r="5.6" fill="#0000c0"/>
<circle cx="403.5" cy="610.0" r="5.6" fill="#0000c0"/>
<circle cx="474.7" cy="613.7" r="5.6" fill="#0000c0"/>
<circle cx="491.0" cy="614.2" r="5.6" fill="#0000c0"/>
<circle cx="443.8" cy="615.7" r="5.6" fill="#0000c0"/>
<circle cx="450.7" cy="620.4" r="5.6" fill="#0000c0"/>
<circle cx="446.1" cy="628.9" r="5.6" fill="#0000c0"/>
<circle cx="403.5" cy="624.2" r="5.6" fill="#0000c0"/>
<circle cx="388.7" cy="628.1" r="5.6" fill="#0000c0"/>
<circle cx="394.9" cy="632.8" r="5.6" fill="#0000c0"/>
<circle cx="408.1" cy="640.5" r="5.6" fill="#0000c0"/>
<circle cx="398.8" cy="642.8" r="5.6" fill="#0000c0"/>
<circle cx="375.6" cy="639.0" r="5.6" fill="#0000c0"/>
<circle cx="430.6" cy="649.0" r="5.6" fill="#0000c0"/>
<circle cx="394.2" cy="651.4" r="5.6" fill="#0000c0"/>
<circle cx="390.3" cy="655.2" r="5.6" fill="#0000c0"/>
<circle cx="378.7" cy="657.6" r="5.6" fill="#0000c0"/>
<circle cx="361.6" cy="656.0" r="5.6" fill="#0000c0"/>
<line x1="664" y1="604.4" x2="702" y2="604.4" stroke="#1010c8" stroke-width="1.5"/>
<circle cx="683.0" cy="604.4" r="5.5" fill="#0000c0"/>
<text x="722" y="609.7" style="font-size:28.4px">HEK293-M<tspan dx="-2.5" dy="6.5" style="font-size:22.4px">pred</tspan></text>
<line x1="664" y1="657.1" x2="702" y2="657.1" stroke="#ff6a10" stroke-width="1.5"/>
<rect x="677.7" y="651.8" width="10.6" height="10.6" fill="#ff6600"/>
<text x="722" y="661.8" style="font-size:28.4px">A549-M<tspan dx="-2.5" dy="6.5" style="font-size:22.4px">pred</tspan></text>
<line x1="664" y1="708.9" x2="702" y2="708.9" stroke="#108a10" stroke-width="1.5"/>
<path d="M683.0 703.6L688.5 713.6L677.5 713.6Z" fill="#008000"/>
<text x="722" y="713.8" style="font-size:28.4px">NCI-H1975-M<tspan dx="-2.5" dy="6.5" style="font-size:22.4px">pred</tspan></text>
<line x1="107.45" y1="993.4499999999999" x2="107.45" y2="1352" stroke="#000" stroke-width="2.7"/>
<line x1="93.05" y1="1351.85" x2="643.55" y2="1351.85" stroke="#000" stroke-width="3.9"/>
<line x1="93.05" y1="994.8" x2="107.45" y2="994.8" stroke="#000" stroke-width="3.3"/>
<line x1="93.05" y1="1066.2" x2="107.45" y2="1066.2" stroke="#000" stroke-width="3.3"/>
<line x1="93.05" y1="1137.6" x2="107.45" y2="1137.6" stroke="#000" stroke-width="3.3"/>
<line x1="93.05" y1="1209.0" x2="107.45" y2="1209.0" stroke="#000" stroke-width="3.3"/>
<line x1="93.05" y1="1280.4" x2="107.45" y2="1280.4" stroke="#000" stroke-width="3.3"/>
<line x1="93.05" y1="1351.85" x2="107.45" y2="1351.85" stroke="#000" stroke-width="3.3"/>
<line x1="107.45" y1="1351.85" x2="107.45" y2="1366.8" stroke="#000" stroke-width="3.3"/>
<line x1="241.15" y1="1351.85" x2="241.15" y2="1366.8" stroke="#000" stroke-width="3.3"/>
<line x1="374.85" y1="1351.85" x2="374.85" y2="1366.8" stroke="#000" stroke-width="3.3"/>
<line x1="508.55" y1="1351.85" x2="508.55" y2="1366.8" stroke="#000" stroke-width="3.3"/>
<line x1="642.25" y1="1351.85" x2="642.25" y2="1366.8" stroke="#000" stroke-width="3.3"/>
<text x="88.3" y="1004.35" style="font-size:27.3px;font-weight:bold" text-anchor="end">2.5</text>
<text x="88.3" y="1075.76" style="font-size:27.3px;font-weight:bold" text-anchor="end">2.0</text>
<text x="88.3" y="1147.15" style="font-size:27.3px;font-weight:bold" text-anchor="end">1.5</text>
<text x="88.3" y="1218.56" style="font-size:27.3px;font-weight:bold" text-anchor="end">1.0</text>
<text x="88.3" y="1289.96" style="font-size:27.3px;font-weight:bold" text-anchor="end">0.5</text>
<text x="88.3" y="1361.4" style="font-size:27.3px;font-weight:bold" text-anchor="end">0.0</text>
<text x="107.45" y="1395.6" style="font-size:27.3px;font-weight:bold" text-anchor="middle">0.0</text>
<text x="241.15" y="1395.6" style="font-size:27.3px;font-weight:bold" text-anchor="middle">0.5</text>
<text x="374.85" y="1395.6" style="font-size:27.3px;font-weight:bold" text-anchor="middle">1.0</text>
<text x="508.55" y="1395.6" style="font-size:27.3px;font-weight:bold" text-anchor="middle">1.5</text>
<text x="642.25" y="1395.6" style="font-size:27.3px;font-weight:bold" text-anchor="middle">2.0</text>
<text x="376" y="981.6" style="font-size:33.7px;font-weight:bold" text-anchor="middle">NCI-H1975</text>
<text x="249.4" y="1438.6" style="font-size:28.8px">Measured OD</text>
<text x="429.9" y="1445.3" style="font-size:22.5px">450nm</text>
<text transform="translate(23.9,1300.6) rotate(-90) scale(1,1.024)" style="font-size:29.5px;font-weight:bold">Predicted OD</text>
<text transform="translate(29.6,1114.0) rotate(-90)" style="font-size:23.0px">450nm</text>
<line x1="170" y1="1295.5" x2="604.3" y2="1098.5" stroke="#ff6a10" stroke-width="1.1"/>
<line x1="170" y1="1230.5" x2="604.3" y2="1226.4" stroke="#108a10" stroke-width="1.25"/>
<line x1="170" y1="1316.5" x2="604.3" y2="1085.3" stroke="#1010c8" stroke-width="1.1"/>
<path d="M189.8 1250.1L195.5 1261.1L184.1 1261.1Z" fill="#ff6600"/>
<path d="M191.0 1270.6L196.7 1281.6L185.3 1281.6Z" fill="#ff6600"/>
<path d="M192.9 1274.9L198.6 1285.9L187.2 1285.9Z" fill="#ff6600"/>
<path d="M196.0 1323.5L201.7 1334.5L190.3 1334.5Z" fill="#ff6600"/>
<path d="M170.5 1332.8L176.2 1343.8L164.8 1343.8Z" fill="#ff6600"/>
<path d="M185.4 1334.0L191.1 1345.0L179.7 1345.0Z" fill="#ff6600"/>
<path d="M181.1 1342.1L186.8 1353.1L175.4 1353.1Z" fill="#ff6600"/>
<path d="M254.5 1211.5L260.2 1222.5L248.8 1222.5Z" fill="#ff6600"/>
<path d="M244.8 1223.9L250.5 1234.9L239.1 1234.9Z" fill="#ff6600"/>
<path d="M282.0 1248.7L287.7 1259.7L276.3 1259.7Z" fill="#ff6600"/>
<path d="M234.3 1261.1L240.0 1272.1L228.6 1272.1Z" fill="#ff6600"/>
<path d="M239.3 1288.3L245.0 1299.3L233.6 1299.3Z" fill="#ff6600"/>
<path d="M238.6 1309.4L244.3 1320.4L232.9 1320.4Z" fill="#ff6600"/>
<path d="M433.8 1069.3L439.5 1080.3L428.1 1080.3Z" fill="#ff6600"/>
<path d="M463.6 1066.1L469.3 1077.1L457.9 1077.1Z" fill="#ff6600"/>
<path d="M443.6 1075.7L449.3 1086.7L437.9 1086.7Z" fill="#ff6600"/>
<path d="M460.8 1086.8L466.5 1097.8L455.1 1097.8Z" fill="#ff6600"/>
<path d="M462.4 1090.0L468.1 1101.0L456.7 1101.0Z" fill="#ff6600"/>
<path d="M419.5 1097.1L425.2 1108.1L413.8 1108.1Z" fill="#ff6600"/>
<path d="M450.4 1101.1L456.1 1112.1L444.7 1112.1Z" fill="#ff6600"/>
<path d="M365.1 1105.4L370.8 1116.4L359.4 1116.4Z" fill="#ff6600"/>
<path d="M428.2 1108.2L433.9 1119.2L422.5 1119.2Z" fill="#ff6600"/>
<path d="M427.4 1125.7L433.1 1136.7L421.7 1136.7Z" fill="#ff6600"/>
<path d="M449.3 1119.4L455.0 1130.4L443.6 1130.4Z" fill="#ff6600"/>
<path d="M377.3 1140.8L383.0 1151.8L371.6 1151.8Z" fill="#ff6600"/>
<path d="M457.6 1148.7L463.3 1159.7L451.9 1159.7Z" fill="#ff6600"/>
<path d="M408.6 1171.8L414.3 1182.8L402.9 1182.8Z" fill="#ff6600"/>
<path d="M358.0 1183.7L363.7 1194.7L352.3 1194.7Z" fill="#ff6600"/>
<path d="M380.5 1194.0L386.2 1205.0L374.8 1205.0Z" fill="#ff6600"/>
<path d="M388.5 1221.8L394.2 1232.8L382.8 1232.8Z" fill="#ff6600"/>
<path d="M581.2 1073.6L586.9 1084.6L575.5 1084.6Z" fill="#ff6600"/>
<path d="M593.2 1075.2L598.9 1086.2L587.5 1086.2Z" fill="#ff6600"/>
<path d="M501.8 1109.4L507.5 1120.4L496.1 1120.4Z" fill="#ff6600"/>
<path d="M493.8 1114.1L499.5 1125.1L488.1 1125.1Z" fill="#ff6600"/>
<path d="M563.0 1129.2L568.7 1140.2L557.3 1140.2Z" fill="#ff6600"/>
<path d="M578.1 1123.7L583.8 1134.7L572.4 1134.7Z" fill="#ff6600"/>
<path d="M568.5 1137.2L574.2 1148.2L562.8 1148.2Z" fill="#ff6600"/>
<path d="M592.4 1141.1L598.1 1152.1L586.7 1152.1Z" fill="#ff6600"/>
<path d="M560.6 1149.1L566.3 1160.1L554.9 1160.1Z" fill="#ff6600"/>
<path d="M554.2 1150.7L559.9 1161.7L548.5 1161.7Z" fill="#ff6600"/>
<path d="M547.1 1156.2L552.8 1167.2L541.4 1167.2Z" fill="#ff6600"/>
<path d="M588.4 1149.1L594.1 1160.1L582.7 1160.1Z" fill="#ff6600"/>
<path d="M487.5 1161.8L493.2 1172.8L481.8 1172.8Z" fill="#ff6600"/>
<path d="M572.5 1161.8L578.2 1172.8L566.8 1172.8Z" fill="#ff6600"/>
<path d="M587.6 1161.8L593.3 1172.8L581.9 1172.8Z" fill="#ff6600"/>
<path d="M604.3 1164.2L610.0 1175.2L598.6 1175.2Z" fill="#ff6600"/>
<path d="M563.4 1177.7L569.1 1188.7L557.7 1188.7Z" fill="#ff6600"/>
<path d="M550.2 1205.5L555.9 1216.5L544.5 1216.5Z" fill="#ff6600"/>
<path d="M500.0 1133.2L505.7 1144.2L494.3 1144.2Z" fill="#ff6600"/>
<rect x="178.0" y="1187.5" width="11.2" height="11.2" fill="#008000"/>
<rect x="175.4" y="1194.4" width="11.2" height="11.2" fill="#008000"/>
<rect x="184.4" y="1205.4" width="11.2" height="11.2" fill="#008000"/>
<rect x="180.4" y="1190.4" width="11.2" height="11.2" fill="#008000"/>
<rect x="173.0" y="1199.9" width="11.2" height="11.2" fill="#008000"/>
<rect x="187.3" y="1197.4" width="11.2" height="11.2" fill="#008000"/>
<rect x="183.6" y="1211.1" width="11.2" height="11.2" fill="#008000"/>
<rect x="190.4" y="1217.3" width="11.2" height="11.2" fill="#008000"/>
<rect x="174.3" y="1229.1" width="11.2" height="11.2" fill="#008000"/>
<rect x="164.9" y="1233.5" width="11.2" height="11.2" fill="#008000"/>
<rect x="178.6" y="1244.7" width="11.2" height="11.2" fill="#008000"/>
<rect x="166.8" y="1251.5" width="11.2" height="11.2" fill="#008000"/>
<rect x="174.3" y="1258.4" width="11.2" height="11.2" fill="#008000"/>
<rect x="183.0" y="1259.6" width="11.2" height="11.2" fill="#008000"/>
<rect x="173.0" y="1275.1" width="11.2" height="11.2" fill="#008000"/>
<rect x="164.9" y="1290.1" width="11.2" height="11.2" fill="#008000"/>
<rect x="233.0" y="1207.3" width="11.2" height="11.2" fill="#008000"/>
<rect x="233.7" y="1221.0" width="11.2" height="11.2" fill="#008000"/>
<rect x="228.1" y="1228.4" width="11.2" height="11.2" fill="#008000"/>
<rect x="239.2" y="1240.2" width="11.2" height="11.2" fill="#008000"/>
<rect x="276.4" y="1235.2" width="11.2" height="11.2" fill="#008000"/>
<rect x="248.5" y="1223.4" width="11.2" height="11.2" fill="#008000"/>
<rect x="428.2" y="1172.0" width="11.2" height="11.2" fill="#008000"/>
<rect x="437.7" y="1176.8" width="11.2" height="11.2" fill="#008000"/>
<rect x="456.8" y="1168.8" width="11.2" height="11.2" fill="#008000"/>
<rect x="457.6" y="1192.6" width="11.2" height="11.2" fill="#008000"/>
<rect x="421.8" y="1203.8" width="11.2" height="11.2" fill="#008000"/>
<rect x="413.9" y="1211.7" width="11.2" height="11.2" fill="#008000"/>
<rect x="404.3" y="1221.3" width="11.2" height="11.2" fill="#008000"/>
<rect x="413.9" y="1222.8" width="11.2" height="11.2" fill="#008000"/>
<rect x="373.3" y="1215.7" width="11.2" height="11.2" fill="#008000"/>
<rect x="351.9" y="1233.2" width="11.2" height="11.2" fill="#008000"/>
<rect x="359.0" y="1237.9" width="11.2" height="11.2" fill="#008000"/>
<rect x="382.9" y="1236.4" width="11.2" height="11.2" fill="#008000"/>
<rect x="422.6" y="1235.6" width="11.2" height="11.2" fill="#008000"/>
<rect x="444.8" y="1234.8" width="11.2" height="11.2" fill="#008000"/>
<rect x="443.7" y="1243.5" width="11.2" height="11.2" fill="#008000"/>
<rect x="452.0" y="1262.6" width="11.2" height="11.2" fill="#008000"/>
<rect x="509.7" y="1193.8" width="11.2" height="11.2" fill="#008000"/>
<rect x="575.6" y="1195.4" width="11.2" height="11.2" fill="#008000"/>
<rect x="565.3" y="1201.7" width="11.2" height="11.2" fill="#008000"/>
<rect x="587.6" y="1204.9" width="11.2" height="11.2" fill="#008000"/>
<rect x="489.0" y="1204.9" width="11.2" height="11.2" fill="#008000"/>
<rect x="497.0" y="1216.8" width="11.2" height="11.2" fill="#008000"/>
<rect x="549.4" y="1217.6" width="11.2" height="11.2" fill="#008000"/>
<rect x="556.6" y="1221.6" width="11.2" height="11.2" fill="#008000"/>
<rect x="562.9" y="1224.0" width="11.2" height="11.2" fill="#008000"/>
<rect x="598.7" y="1220.8" width="11.2" height="11.2" fill="#008000"/>
<rect x="586.8" y="1228.7" width="11.2" height="11.2" fill="#008000"/>
<rect x="582.8" y="1237.5" width="11.2" height="11.2" fill="#008000"/>
<rect x="568.5" y="1246.2" width="11.2" height="11.2" fill="#008000"/>
<rect x="541.5" y="1233.5" width="11.2" height="11.2" fill="#008000"/>
<rect x="496.2" y="1235.1" width="11.2" height="11.2" fill="#008000"/>
<rect x="481.6" y="1246.2" width="11.2" height="11.2" fill="#008000"/>
<rect x="544.6" y="1254.9" width="11.2" height="11.2" fill="#008000"/>
<rect x="582.8" y="1256.5" width="11.2" height="11.2" fill="#008000"/>
<circle cx="180.5" cy="1292.6" r="5.6" fill="#0000c0"/>
<circle cx="189.2" cy="1295.0" r="5.6" fill="#0000c0"/>
<circle cx="179.9" cy="1302.5" r="5.6" fill="#0000c0"/>
<circle cx="187.3" cy="1305.6" r="5.6" fill="#0000c0"/>
<circle cx="196.0" cy="1310.0" r="5.6" fill="#0000c0"/>
<circle cx="182.3" cy="1311.8" r="5.6" fill="#0000c0"/>
<circle cx="170.5" cy="1317.4" r="5.6" fill="#0000c0"/>
<circle cx="178.6" cy="1318.7" r="5.6" fill="#0000c0"/>
<circle cx="187.3" cy="1319.3" r="5.6" fill="#0000c0"/>
<circle cx="184.8" cy="1323.0" r="5.6" fill="#0000c0"/>
<circle cx="171.8" cy="1330.5" r="5.6" fill="#0000c0"/>
<circle cx="184.2" cy="1331.1" r="5.6" fill="#0000c0"/>
<circle cx="244.5" cy="1245.9" r="5.6" fill="#0000c0"/>
<circle cx="234.3" cy="1275.8" r="5.6" fill="#0000c0"/>
<circle cx="239.6" cy="1283.2" r="5.6" fill="#0000c0"/>
<circle cx="238.6" cy="1310.6" r="5.6" fill="#0000c0"/>
<circle cx="254.5" cy="1229.7" r="5.6" fill="#0000c0"/>
<circle cx="282.0" cy="1279.3" r="5.6" fill="#0000c0"/>
<circle cx="449.3" cy="1130.7" r="5.6" fill="#0000c0"/>
<circle cx="428.2" cy="1150.3" r="5.6" fill="#0000c0"/>
<circle cx="419.5" cy="1153.0" r="5.6" fill="#0000c0"/>
<circle cx="365.1" cy="1165.2" r="5.6" fill="#0000c0"/>
<circle cx="443.3" cy="1168.9" r="5.6" fill="#0000c0"/>
<circle cx="451.2" cy="1169.6" r="5.6" fill="#0000c0"/>
<circle cx="457.6" cy="1170.4" r="5.6" fill="#0000c0"/>
<circle cx="462.4" cy="1176.8" r="5.6" fill="#0000c0"/>
<circle cx="419.5" cy="1176.8" r="5.6" fill="#0000c0"/>
<circle cx="357.5" cy="1178.9" r="5.6" fill="#0000c0"/>
<circle cx="377.0" cy="1184.0" r="5.6" fill="#0000c0"/>
<circle cx="427.4" cy="1185.5" r="5.6" fill="#0000c0"/>
<circle cx="433.8" cy="1197.5" r="5.6" fill="#0000c0"/>
<circle cx="460.3" cy="1190.3" r="5.6" fill="#0000c0"/>
<circle cx="380.5" cy="1224.5" r="5.6" fill="#0000c0"/>
<circle cx="409.1" cy="1238.8" r="5.6" fill="#0000c0"/>
<circle cx="388.5" cy="1257.0" r="5.6" fill="#0000c0"/>
<circle cx="604.3" cy="1065.6" r="5.6" fill="#0000c0"/>
<circle cx="594.7" cy="1087.3" r="5.6" fill="#0000c0"/>
<circle cx="588.4" cy="1091.3" r="5.6" fill="#0000c0"/>
<circle cx="592.4" cy="1099.3" r="5.6" fill="#0000c0"/>
<circle cx="587.6" cy="1104.0" r="5.6" fill="#0000c0"/>
<circle cx="581.2" cy="1104.0" r="5.6" fill="#0000c0"/>
<circle cx="573.3" cy="1104.8" r="5.6" fill="#0000c0"/>
<circle cx="563.8" cy="1097.7" r="5.6" fill="#0000c0"/>
<circle cx="555.0" cy="1095.3" r="5.6" fill="#0000c0"/>
<circle cx="549.5" cy="1103.2" r="5.6" fill="#0000c0"/>
<circle cx="562.2" cy="1107.2" r="5.6" fill="#0000c0"/>
<circle cx="563.8" cy="1111.2" r="5.6" fill="#0000c0"/>
<circle cx="569.3" cy="1116.7" r="5.6" fill="#0000c0"/>
<circle cx="547.1" cy="1115.9" r="5.6" fill="#0000c0"/>
<circle cx="515.3" cy="1120.7" r="5.6" fill="#0000c0"/>
<circle cx="494.6" cy="1125.5" r="5.6" fill="#0000c0"/>
<circle cx="502.6" cy="1130.2" r="5.6" fill="#0000c0"/>
<circle cx="501.0" cy="1135.0" r="5.6" fill="#0000c0"/>
<circle cx="573.3" cy="1135.8" r="5.6" fill="#0000c0"/>
<circle cx="487.2" cy="1150.4" r="5.6" fill="#0000c0"/>
<circle cx="501.5" cy="1148.2" r="5.6" fill="#0000c0"/>
<circle cx="559.0" cy="1102.4" r="5.6" fill="#0000c0"/>
<circle cx="568.5" cy="1104.0" r="5.6" fill="#0000c0"/>
<circle cx="578.0" cy="1100.9" r="5.6" fill="#0000c0"/>
<line x1="688.3" y1="1103.8" x2="727" y2="1103.8" stroke="#1010c8" stroke-width="1.3"/>
<circle cx="707.6" cy="1103.8" r="5.5" fill="#0000c0"/>
<text x="747.6" y="1110.6" style="font-size:28.8px">NCI-H1975-M<tspan dx="-1" dy="6.5" style="font-size:22.8px">pred</tspan></text>
<line x1="688.3" y1="1157.7" x2="727" y2="1157.7" stroke="#108a10" stroke-width="1.3"/>
<rect x="702.4" y="1152.4" width="10.6" height="10.6" fill="#008000"/>
<text x="747.6" y="1163.9" style="font-size:28.8px">HEK293-M<tspan dx="-1" dy="6.5" style="font-size:22.8px">pred</tspan></text>
<line x1="688.3" y1="1211.6" x2="727" y2="1211.6" stroke="#ff6a10" stroke-width="1.3"/>
<path d="M707.6 1206.3L713.1 1216.2L702.1 1216.2Z" fill="#ff6600"/>
<text x="747.6" y="1217.2" style="font-size:28.8px">A549-M<tspan dx="-1" dy="6.5" style="font-size:22.8px">pred</tspan></text>
</svg></body></html>
